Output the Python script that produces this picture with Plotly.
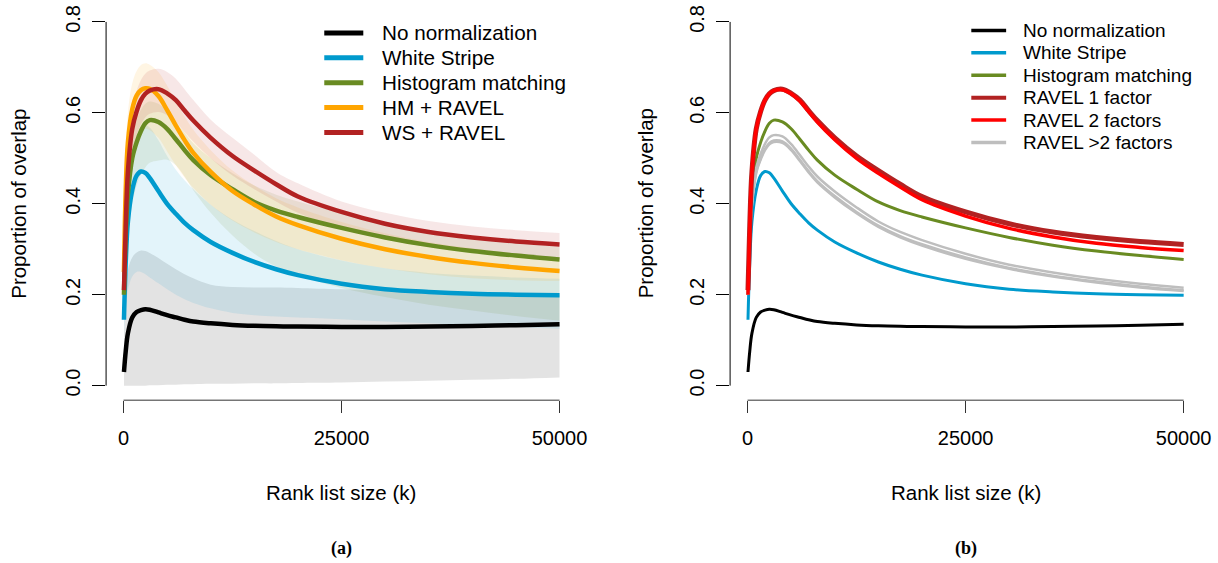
import plotly.graph_objects as go

# ---------------- data ----------------
rank_k = [50, 250, 500, 1000, 1500, 2000, 2500, 3000, 4000, 5000, 6000, 7000, 8000,
          10000, 12500, 15000, 17500, 20000, 25000, 30000, 35000, 40000, 45000, 50000]

no_norm = [0.030, 0.075, 0.115, 0.150, 0.162, 0.166, 0.168, 0.167, 0.161, 0.155, 0.150, 0.145, 0.141,
           0.137, 0.1335, 0.1315, 0.1305, 0.130, 0.129, 0.129, 0.130, 0.131, 0.133, 0.135]
white_stripe = [0.145, 0.27, 0.36, 0.43, 0.462, 0.471, 0.468, 0.457, 0.428, 0.400, 0.378, 0.358, 0.342,
                0.316, 0.292, 0.272, 0.256, 0.243, 0.224, 0.212, 0.206, 0.202, 0.200, 0.199]
hist_match = [0.20, 0.33, 0.42, 0.50, 0.535, 0.560, 0.577, 0.584, 0.580, 0.565, 0.542, 0.518, 0.496,
              0.463, 0.432, 0.404, 0.385, 0.371, 0.347, 0.326, 0.309, 0.296, 0.286, 0.2776]
hm_ravel = [0.25, 0.43, 0.535, 0.608, 0.638, 0.650, 0.654, 0.653, 0.637, 0.606, 0.572, 0.540, 0.512,
            0.470, 0.428, 0.398, 0.372, 0.353, 0.323, 0.300, 0.283, 0.270, 0.260, 0.252]
ws_ravel = [0.21, 0.35, 0.47, 0.565, 0.603, 0.628, 0.642, 0.649, 0.652, 0.643, 0.628, 0.605, 0.583,
            0.545, 0.505, 0.473, 0.443, 0.416, 0.382, 0.356, 0.338, 0.326, 0.317, 0.3105]
ravel_2f = [0.20, 0.35, 0.47, 0.565, 0.603, 0.628, 0.642, 0.649, 0.651, 0.642, 0.626, 0.603, 0.580,
            0.541, 0.500, 0.467, 0.437, 0.409, 0.373, 0.346, 0.327, 0.313, 0.304, 0.297]
ravel_gt2_a = [0.20, 0.32, 0.405, 0.48, 0.51, 0.532, 0.546, 0.551, 0.548, 0.531, 0.507, 0.482, 0.460,
               0.427, 0.392, 0.361, 0.338, 0.320, 0.290, 0.266, 0.249, 0.235, 0.224, 0.2155]
ravel_gt2_b = [0.20, 0.315, 0.398, 0.471, 0.50, 0.521, 0.534, 0.539, 0.537, 0.521, 0.497, 0.472, 0.450,
               0.417, 0.382, 0.352, 0.329, 0.311, 0.282, 0.259, 0.242, 0.229, 0.218, 0.2097]
ravel_gt2_c = [0.20, 0.312, 0.395, 0.468, 0.497, 0.518, 0.531, 0.536, 0.534, 0.518, 0.494, 0.469, 0.447,
               0.414, 0.379, 0.349, 0.326, 0.308, 0.279, 0.257, 0.240, 0.227, 0.216, 0.208]

# variability bands (panel a)
no_norm_lo = [0.0, 0.0, 0.0, 0.0, 0.0, 0.0, 0.0, 0.001, 0.001, 0.002, 0.002, 0.003, 0.003,
              0.004, 0.004, 0.005, 0.005, 0.006, 0.007, 0.009, 0.011, 0.013, 0.015, 0.018]
no_norm_hi = [0.10, 0.21, 0.255, 0.282, 0.293, 0.297, 0.296, 0.292, 0.281, 0.268, 0.256, 0.245, 0.236,
              0.222, 0.217, 0.216, 0.216, 0.215, 0.212, 0.209, 0.206, 0.204, 0.202, 0.200]
ws_lo = [0.10, 0.17, 0.21, 0.24, 0.25, 0.25, 0.245, 0.238, 0.225, 0.212, 0.200, 0.190, 0.182,
         0.170, 0.160, 0.155, 0.152, 0.150, 0.146, 0.141, 0.137, 0.133, 0.129, 0.125]
ws_hi = [0.20, 0.34, 0.43, 0.51, 0.55, 0.568, 0.572, 0.568, 0.540, 0.505, 0.475, 0.452, 0.432,
         0.398, 0.365, 0.340, 0.318, 0.300, 0.275, 0.258, 0.248, 0.242, 0.238, 0.235]
hm_lo = [0.15, 0.26, 0.33, 0.40, 0.44, 0.465, 0.48, 0.49, 0.495, 0.497, 0.485, 0.46, 0.43,
         0.38, 0.33, 0.29, 0.262, 0.243, 0.215, 0.195, 0.178, 0.165, 0.153, 0.1425]
hm_hi = [0.25, 0.39, 0.47, 0.55, 0.585, 0.607, 0.62, 0.625, 0.62, 0.604, 0.58, 0.556, 0.533,
         0.50, 0.467, 0.44, 0.42, 0.405, 0.38, 0.358, 0.34, 0.326, 0.315, 0.305]
hmr_lo = [0.20, 0.35, 0.44, 0.51, 0.545, 0.56, 0.565, 0.562, 0.545, 0.515, 0.485, 0.458, 0.435,
          0.398, 0.363, 0.337, 0.316, 0.30, 0.276, 0.258, 0.245, 0.236, 0.232, 0.23]
hmr_hi = [0.30, 0.50, 0.60, 0.665, 0.692, 0.705, 0.709, 0.706, 0.69, 0.66, 0.625, 0.592, 0.563,
          0.518, 0.473, 0.44, 0.412, 0.392, 0.36, 0.335, 0.316, 0.302, 0.291, 0.282]
wsr_lo = [0.17, 0.29, 0.41, 0.51, 0.55, 0.575, 0.59, 0.598, 0.602, 0.595, 0.58, 0.558, 0.537,
          0.50, 0.462, 0.432, 0.405, 0.38, 0.345, 0.322, 0.305, 0.294, 0.286, 0.28]
wsr_hi = [0.25, 0.40, 0.52, 0.61, 0.648, 0.672, 0.686, 0.693, 0.697, 0.69, 0.675, 0.652, 0.628,
          0.585, 0.545, 0.508, 0.47, 0.445, 0.405, 0.38, 0.362, 0.35, 0.342, 0.336]

x_ticks = [0, 25000, 50000]
x_tick_labels = ["0", "25000", "50000"]
y_ticks = [0.0, 0.2, 0.4, 0.6, 0.8]
y_tick_labels = ["0.0", "0.2", "0.4", "0.6", "0.8"]

legend_a = ["No normalization", "White Stripe", "Histogram matching", "HM + RAVEL", "WS + RAVEL"]
legend_b = ["No normalization", "White Stripe", "Histogram matching", "RAVEL 1 factor",
            "RAVEL 2 factors", "RAVEL >2 factors"]

BLACK = "#000000"
BLUE = "#009ACD"
GREEN = "#698B22"
ORANGE = "#FFA500"
FIREBRICK = "#B22222"
RED = "#FF0000"
GREY = "#BEBEBE"

def rgba(hexc, a):
    h = hexc.lstrip("#")
    return "rgba(%d,%d,%d,%.3f)" % (int(h[0:2], 16), int(h[2:4], 16), int(h[4:6], 16), a)

FONT = "Liberation Sans, Arial, sans-serif"
W, H = 1218, 563
WX = 1207.0   # effective horizontal extent used for paper fractions
fig = go.Figure()

# ---------------- panel (a) ----------------
bands = [(no_norm_lo, no_norm_hi, BLACK), (ws_lo, ws_hi, BLUE), (hm_lo, hm_hi, GREEN),
         (hmr_lo, hmr_hi, ORANGE), (wsr_lo, wsr_hi, FIREBRICK)]
for lo, hi, col in bands:
    fig.add_trace(go.Scatter(x=rank_k, y=lo, mode="lines", line=dict(width=0, shape="spline"),
                             showlegend=False, hoverinfo="skip", xaxis="x", yaxis="y"))
    fig.add_trace(go.Scatter(x=rank_k, y=hi, mode="lines", line=dict(width=0, shape="spline"),
                             fill="tonexty", fillcolor=rgba(col, 0.11),
                             showlegend=False, hoverinfo="skip", xaxis="x", yaxis="y"))

series_a = [no_norm, white_stripe, hist_match, hm_ravel, ws_ravel]
colors_a = [BLACK, BLUE, GREEN, ORANGE, FIREBRICK]
for name, ys, col in zip(legend_a, series_a, colors_a):
    fig.add_trace(go.Scatter(x=rank_k, y=ys, mode="lines", name=name,
                             line=dict(color=col, width=4.5, shape="spline"),
                             showlegend=False, xaxis="x", yaxis="y"))

# ---------------- panel (b) ----------------
lines_b = [("No normalization", no_norm, BLACK, 3), ("White Stripe", white_stripe, BLUE, 3),
           ("Histogram matching", hist_match, GREEN, 3),
           ("RAVEL >2 factors", ravel_gt2_a, GREY, 2.5),
           ("RAVEL >2 factors", ravel_gt2_b, GREY, 2.5),
           ("RAVEL >2 factors", ravel_gt2_c, GREY, 2.5),
           ("RAVEL 1 factor", ws_ravel, FIREBRICK, 5),
           ("RAVEL 2 factors", ravel_2f, RED, 3.5)]
for name, ys, col, w in lines_b:
    fig.add_trace(go.Scatter(x=rank_k, y=ys, mode="lines", name=name,
                             line=dict(color=col, width=w, shape="spline"),
                             showlegend=False, xaxis="x2", yaxis="y2"))

xr = [-2000, 52000]
yr = [-0.032, 0.832]
ydom = [1 - 399.6 / H, 1 - 5.4 / H]

def xaxis_cfg(dom):
    return dict(domain=dom, range=xr, showgrid=False, zeroline=False, showline=False,
                ticks="outside", ticklen=12, tickwidth=1, tickcolor="#333333",
                tickvals=x_ticks, ticktext=x_tick_labels,
                tickfont=dict(family=FONT, size=20, color="black"), ticklabelstandoff=8)

def yaxis_cfg(anchor):
    return dict(domain=ydom, range=yr, anchor=anchor, showgrid=False, zeroline=False, showline=False,
                ticks="outside", ticklen=13, tickwidth=1, tickcolor="black",
                tickvals=y_ticks, ticktext=y_tick_labels, tickangle=-90,
                tickfont=dict(family=FONT, size=20, color="black"), ticklabelstandoff=4)

fig.update_layout(
    width=W, height=H, autosize=False, margin=dict(l=0, r=0, t=0, b=0),
    paper_bgcolor="white", plot_bgcolor="white",
    xaxis=xaxis_cfg([106 / WX, 576.5 / WX]),
    xaxis2=xaxis_cfg([729.5 / WX, 1200.1 / WX]),
    yaxis=yaxis_cfg("x"),
    yaxis2=yaxis_cfg("x2"),
    showlegend=False,
)

# R-style axis lines spanning the tick range only
for xa, ya in (("x", "y"), ("x2", "y2")):
    fig.add_shape(type="line", xref=xa, yref=ya + " domain", x0=x_ticks[0], x1=x_ticks[-1], y0=0, y1=0,
                  line=dict(color="#333333", width=1))
    fig.add_shape(type="line", xref=xa + " domain", yref=ya, x0=0, x1=0, y0=y_ticks[0], y1=y_ticks[-1],
                  line=dict(color="black", width=1))

# legends (drawn as R-style key: line sample + label)
def draw_key(labels, colors, widths, x_line0, x_line1, x_text, y0, dy, fsize):
    for i, (lab, col, w) in enumerate(zip(labels, colors, widths)):
        yy = 1 - (y0 + i * dy) / H
        fig.add_shape(type="line", xref="paper", yref="paper", x0=x_line0 / WX, x1=x_line1 / WX,
                      y0=yy, y1=yy, line=dict(color=col, width=w))
        fig.add_annotation(x=x_text / WX, y=yy, xref="paper", yref="paper", text=lab, showarrow=False,
                           xanchor="left", yanchor="middle",
                           font=dict(family=FONT, size=fsize, color="black"))

draw_key(legend_a, colors_a, [5] * 5, 324, 363, 380, 31, 25, 20.7)
draw_key(legend_b, [BLACK, BLUE, GREEN, FIREBRICK, RED, GREY], [3.5, 3.5, 3.5, 4, 3.5, 3.5],
         970.5, 1005.3, 1020, 28.5, 22.5, 19)

# axis titles and captions
for cx, cap in ((341, "(a)"), (965, "(b)")):
    fig.add_annotation(x=cx / WX, y=1 - 492 / H, xref="paper", yref="paper", text="Rank list size (k)",
                       showarrow=False, font=dict(family=FONT, size=20.5, color="black"),
                       xanchor="center", yanchor="middle")
    fig.add_annotation(x=cx / WX, y=1 - 548 / H, xref="paper", yref="paper", text="<b>%s</b>" % cap,
                       showarrow=False, font=dict(family="Liberation Serif, serif", size=18, color="black"),
                       xanchor="center", yanchor="middle")
for cx in (19, 645):
    fig.add_annotation(x=cx / WX, y=1 - 202.5 / H, xref="paper", yref="paper", text="Proportion of overlap",
                       showarrow=False, textangle=-90, font=dict(family=FONT, size=20.5, color="black"),
                       xanchor="center", yanchor="middle")

fig.write_html("out.html", config={"responsive": False, "displayModeBar": False},
               post_script="document.body.style.margin='0';document.body.style.overflow='hidden';")
